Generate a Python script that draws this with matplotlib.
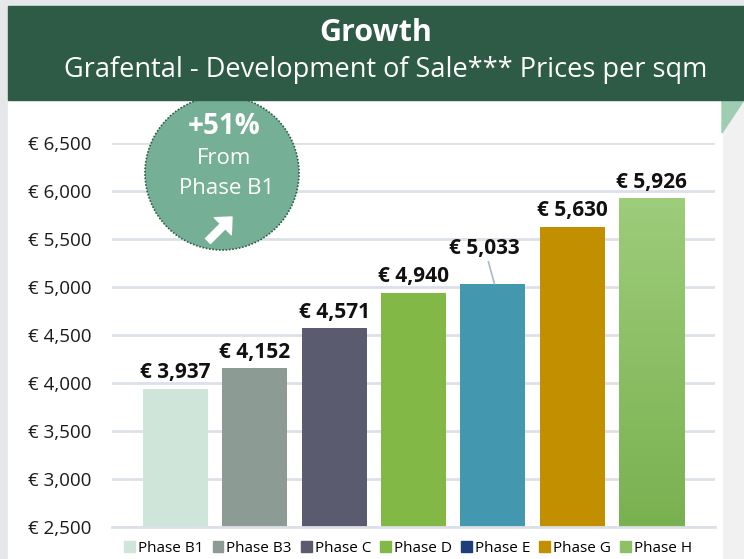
import numpy as np
import matplotlib
matplotlib.use("Agg")
import matplotlib.pyplot as plt
from matplotlib.patches import Rectangle, Circle, Polygon, FancyArrow

plt.rcParams['font.family'] = ['Open Sans', 'DejaVu Sans']

# ===== DATA =====
phases = ["Phase B1", "Phase B3", "Phase C", "Phase D", "Phase E", "Phase G", "Phase H"]
prices = [3937, 4152, 4571, 4940, 5033, 5630, 5926]
bar_colors = ["#CFE5D9", "#8C9B94", "#5B5B70", "#82B846", "#4398B0", "#C28F00", "#8CC166"]
legend_colors = ["#CFE5D9", "#8C9B94", "#5B5B70", "#82B846", "#1F3F7A", "#C28F00", "#8CC166"]
yticks = [2500, 3000, 3500, 4000, 4500, 5000, 5500, 6000, 6500]
title = "Growth"
subtitle = "Grafental - Development of Sale*** Prices per sqm"
badge_lines = ["+51%", "From", "Phase B1"]

W, H = 744, 559
fig = plt.figure(figsize=(W / 100, H / 100), dpi=100)
fig.patch.set_facecolor("#E9EAEB")

# ===== BACKGROUND LAYER (pixel coords) =====
bg = fig.add_axes([0, 0, 1, 1], zorder=0)
bg.set_xlim(0, W)
bg.set_ylim(H, 0)
bg.axis("off")
bg.add_patch(Rectangle((0, 0), W, H, color="#E6E7E8"))
bg.add_patch(Rectangle((722, 100), 22, 459, color="#F1F1F1"))
bg.add_patch(Rectangle((8, 100), 714, 459, color="white"))
bg.add_patch(Polygon([(722, 100), (744, 100), (722, 133)], color="#9ECDB4"))

# ===== CHART =====
ax = fig.add_axes([112 / W, 1 - 527 / H, 603 / W, 384 / H], zorder=1)
ax.patch.set_alpha(0)
x = np.arange(len(phases))
bars = ax.bar(x, prices, width=0.82, color=bar_colors, zorder=2)

# gradient on the last bar
last = bars[-1]
grad = np.linspace(0, 1, 100).reshape(-1, 1)
cmap = matplotlib.colors.LinearSegmentedColormap.from_list("g", ["#7AB150", "#9DCC7A"])
im = ax.imshow(grad, cmap=cmap, origin="lower", aspect="auto", zorder=2.5,
               extent=(x[-1] - 0.41, x[-1] + 0.41, 2500, prices[-1]))
im.set_clip_path(last)

ax.set_xlim(-0.8, 6.8)
ax.set_ylim(2500, 6500)
ax.set_yticks(yticks)
ax.set_yticklabels([f"€ {v:,}" for v in yticks], fontsize=13.5, color="#1A1A1A")
ax.tick_params(axis="y", length=0, pad=15)
ax.set_xticks([])
ax.grid(axis="y", color="#DCE1E8", linewidth=2, zorder=0)
for s in ["top", "right", "left"]:
    ax.spines[s].set_visible(False)
ax.spines["bottom"].set_color("#DCE1E8")
ax.spines["bottom"].set_linewidth(2)

for i, v in enumerate(prices):
    if phases[i] == "Phase E":
        ax.annotate(f"€ {v:,}", xy=(i + 0.02, v), xytext=(-7, 18), textcoords="offset points",
                    ha="center", va="bottom", fontsize=15, fontweight="bold", color="#111111",
                    arrowprops=dict(arrowstyle="-", color="#A8B8CC", lw=1.2, shrinkA=0, shrinkB=0))
    else:
        ax.annotate(f"€ {v:,}", xy=(i, v), xytext=(0, 4), textcoords="offset points",
                    ha="center", va="bottom", fontsize=15, fontweight="bold", color="#111111")

handles = [Rectangle((0, 0), 1, 1, color=c) for c in legend_colors]
fig.legend(handles, phases, loc="center", bbox_to_anchor=(408 / W, 1 - 548 / H), ncol=7,
           frameon=False, fontsize=11, handlelength=0.7, handleheight=0.7,
           handletextpad=0.2, columnspacing=0.6)

# ===== BADGE + HEADER (on top) =====
ov = fig.add_axes([0, 0, 1, 1], zorder=3)
ov.set_xlim(0, W)
ov.set_ylim(H, 0)
ov.axis("off")
ov.add_patch(Circle((222, 173), 77, facecolor="#75B096", edgecolor="#2E5B45",
                    linewidth=1.2, linestyle=(0, (1, 1))))
ov.text(224, 127, badge_lines[0], color="white", fontsize=20, fontweight="bold", ha="center", va="center")
ov.text(224, 158, badge_lines[1], color="white", fontsize=16, ha="center", va="center")
ov.text(227, 188, badge_lines[2], color="white", fontsize=16, ha="center", va="center")
ov.add_patch(FancyArrow(208, 241, 24, -24, width=7, head_width=24, head_length=13,
                        length_includes_head=True, color="white", joinstyle="round"))

ov.add_patch(Rectangle((8, 6), 736, 94, color="#2E5B45"))
ov.text(376, 33, title, color="white", fontsize=22, fontweight="bold", ha="center", va="center")
ov.text(386, 70, subtitle, color="white", fontsize=19.5, ha="center", va="center")

fig.savefig("out.png", dpi=100, facecolor=fig.get_facecolor())
